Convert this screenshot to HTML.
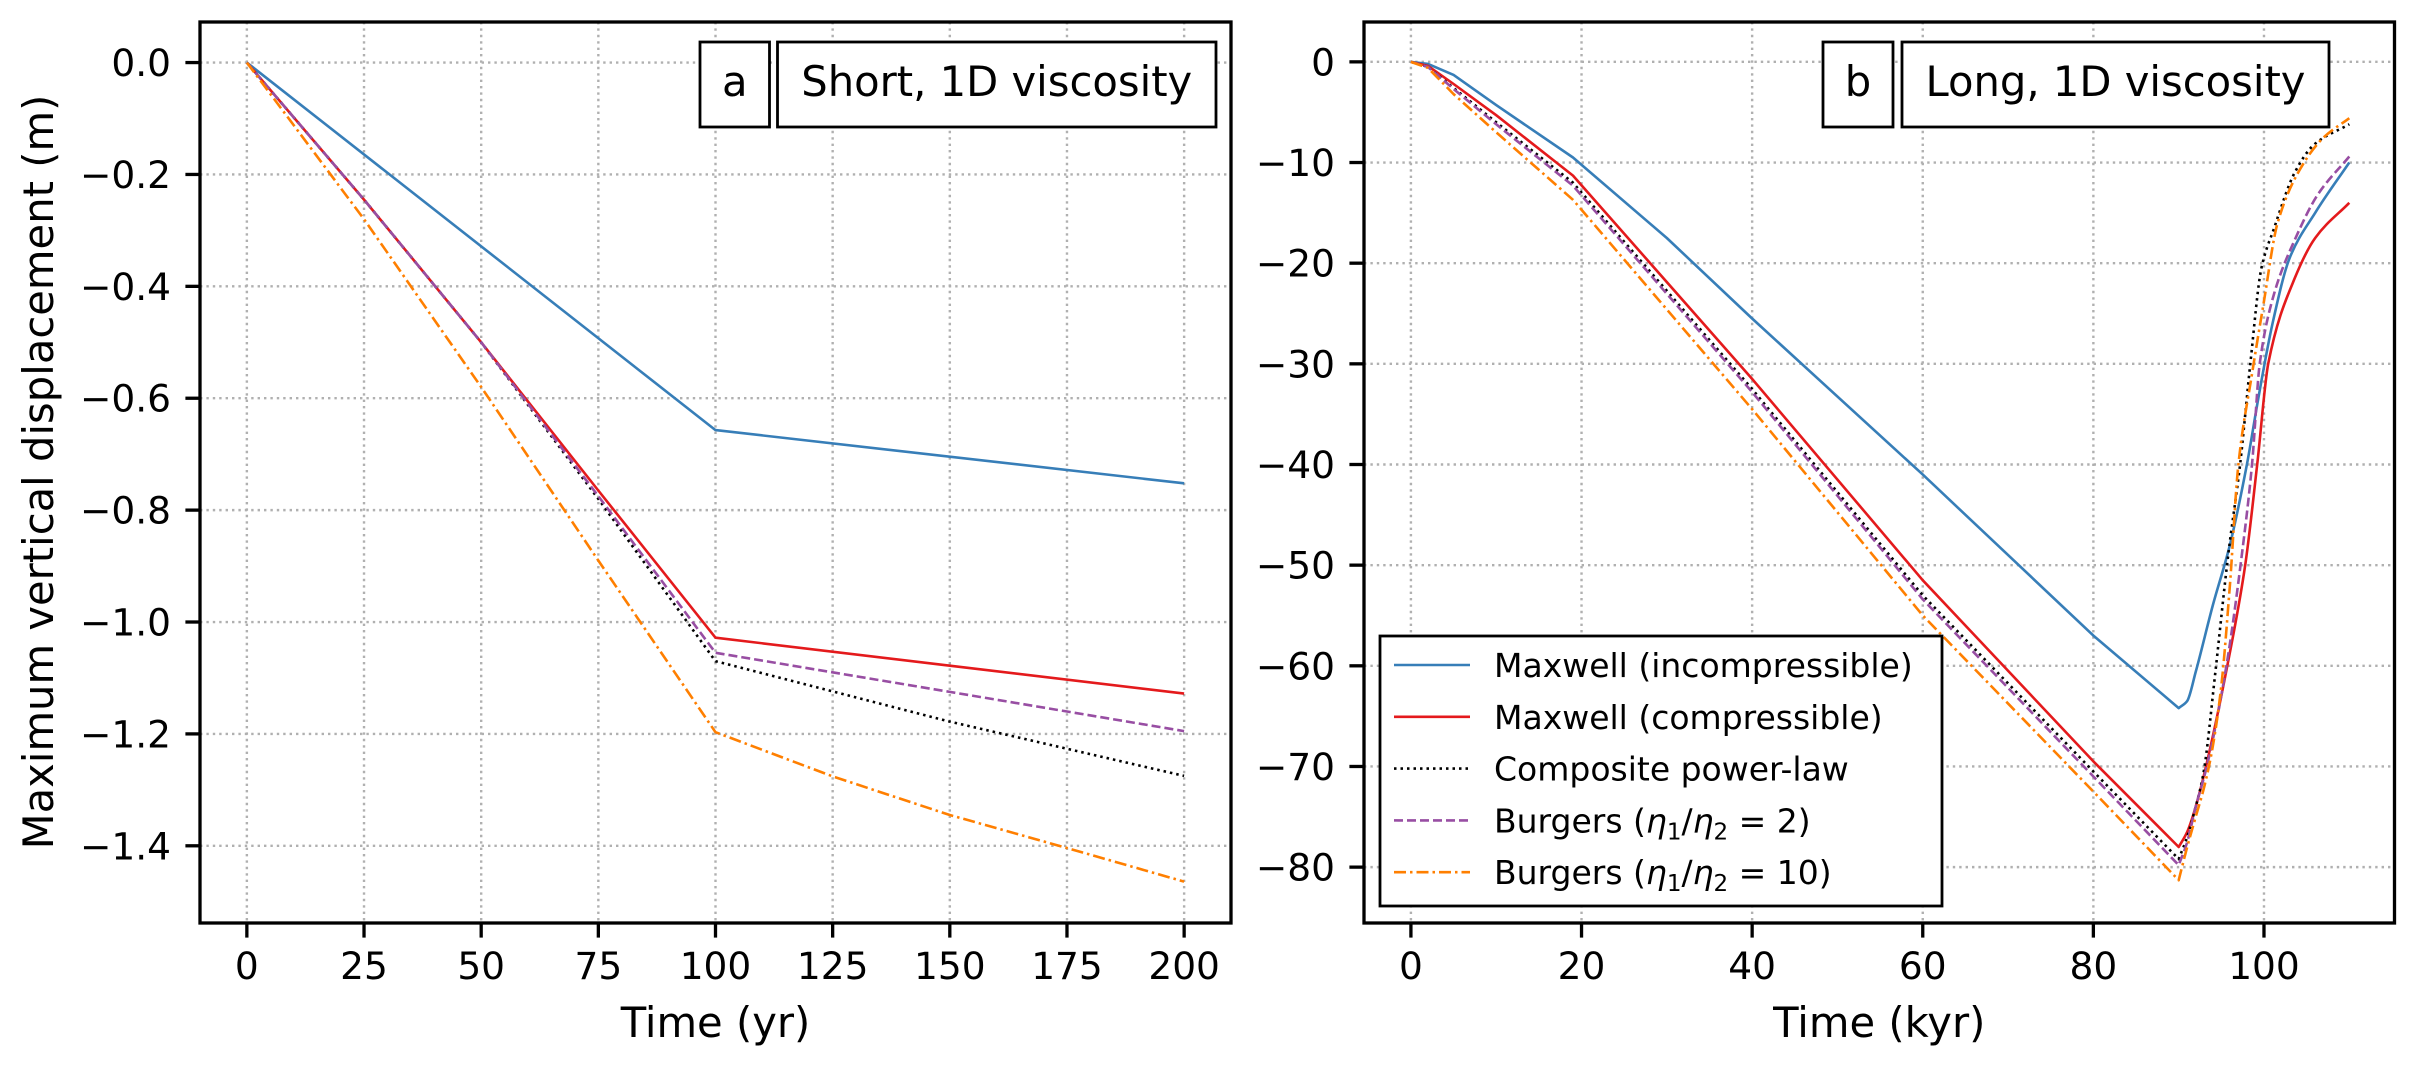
<!DOCTYPE html>
<html><head><meta charset="utf-8"><style>
html,body{margin:0;padding:0;background:#fff;}
svg{display:block;font-family:"DejaVu Sans","Liberation Sans",sans-serif;}
</style></head><body>
<svg id="fig" width="2418" height="1066" viewBox="0 0 2418 1066" xmlns="http://www.w3.org/2000/svg">
<rect width="2418" height="1066" fill="#fff"/>
<g id="root"></g>
</svg>
<script>
// ---- Panel a data (Time yr, displacement m)
const aTicksX = [0,25,50,75,100,125,150,175,200];
const aTicksY = [0,-0.2,-0.4,-0.6,-0.8,-1.0,-1.2,-1.4];
const aTickLabelsY = ["0.0","\u22120.2","\u22120.4","\u22120.6","\u22120.8","\u22121.0","\u22121.2","\u22121.4"];
const aBlueX = [0,100,200];        const aBlueY = [0,-0.657,-0.752];
const aRedX = [0,25,50,75,100,150,200];   const aRedY = [0,-0.245,-0.5,-0.765,-1.028,-1.078,-1.128];
const aBlackX = [0,25,50,75,100,150,200]; const aBlackY = [0,-0.245,-0.5,-0.78,-1.07,-1.178,-1.275];
const aPurpleX = [0,25,50,75,100,150,200];const aPurpleY = [0,-0.245,-0.5,-0.775,-1.055,-1.125,-1.195];
const aOrangeX = [0,25,50,75,100,125,150,175,200]; const aOrangeY = [0,-0.28,-0.58,-0.89,-1.197,-1.276,-1.345,-1.404,-1.464];
// ---- Panel b data (Time kyr, displacement m)
const bTicksX = [0,20,40,60,80,100];
const bTicksY = [0,-10,-20,-30,-40,-50,-60,-70,-80];
const bTickLabelsY = ["0","\u221210","\u221220","\u221230","\u221240","\u221250","\u221260","\u221270","\u221280"];
const bBlueX = [0,2,5,10,19,30,40,60,70,80,90,91,92,94,96,98,99.3,101,103,106,110];
const bBlueY = [0,-0.2,-1.3,-4.3,-9.5,-17.5,-25.5,-41,-49,-57,-64.2,-63.5,-60.6,-54,-48,-40,-33.6,-26,-19.5,-15,-10];
const bRedX = [0,2,5,10,19,40,60,80,90,91,92,93.2,95.7,97.8,99.2,100.5,103.6,106,110];
const bRedY = [0,-0.4,-2.2,-5.3,-11.3,-31.5,-51.5,-69.5,-78,-76.5,-74,-70,-60,-50,-40,-30,-21.5,-17.5,-14];
const bBlackX = [0,2,5,10,19,40,60,80,90,91,92,92.9,94.3,95.8,97.2,98.4,99.7,101.2,103.6,105.9,110];
const bBlackY = [0,-0.5,-2.6,-6,-12,-32.5,-53,-70.5,-79.2,-77,-74,-70.7,-60.6,-49,-40,-30,-20.5,-16.5,-11,-8.2,-6.2];
const bPurpleX = [0,2,5,10,19,40,60,80,90,91,92,93.3,95.6,97.4,98.6,99.5,101.2,103.6,106.3,110];
const bPurpleY = [0,-0.5,-2.7,-6.2,-12.3,-32.8,-53.4,-71,-79.8,-77.5,-74,-70,-60,-49,-40,-30,-23,-17.7,-13.2,-9.4];
const bOrangeX = [0,2,5,10,19,40,60,80,90,91,92,93,94,95,96,97,98.6,99.9,101.6,104.7,107,110];
const bOrangeY = [0,-0.6,-3.2,-7,-13.7,-34.5,-55,-72.5,-81.3,-78,-75,-72,-68,-62,-52,-40,-31,-24.3,-16,-10,-7.5,-5.6];
const legendLabels = ["Maxwell (incompressible)","Maxwell (compressible)","Composite power-law","Burgers","Burgers"];

const NS="http://www.w3.org/2000/svg";
const root=document.getElementById('root');
function mk(tag,attrs,parent){const e=document.createElementNS(NS,tag);for(const k in attrs)e.setAttribute(k,attrs[k]);(parent||root).appendChild(e);return e;}

const TOP=22,BOT=923;
const A={x0:200,x1:1231,xmin:-10,xmax:210,ymin:-1.538,ymax:0.0725};
const B={x0:1364,x1:2394.5,xmin:-5.5,xmax:115.3,ymin:-85.55,ymax:3.96};
function sx(P,v){return P.x0+(v-P.xmin)/(P.xmax-P.xmin)*(P.x1-P.x0);}
function sy(P,v){return BOT-(v-P.ymin)/(P.ymax-P.ymin)*(BOT-TOP);}

const styles={
 blue:{stroke:"#377eb8",dash:""},
 red:{stroke:"#e41a1c",dash:""},
 black:{stroke:"#000",dash:"2.5,4"},
 purple:{stroke:"#984ea3",dash:"9,4"},
 orange:{stroke:"#ff7f00",dash:"12,4,2.5,4"}
};

function axes(P,name,ticksX,ticksY,labelsY,xlabel){
  const g=mk('g',{});
  
  
  ticksX.forEach(t=>{const x=sx(P,t);
    const l=mk('line',{x1:x,x2:x,y1:TOP,y2:BOT,stroke:"#b0b0b0","stroke-width":2.4,"stroke-dasharray":"2.4,4"},g);
    
    mk('line',{x1:x,x2:x,y1:BOT,y2:BOT+14.6,stroke:"#000","stroke-width":3.3},g);
    const tx=mk('text',{x:x,y:BOT+56,"text-anchor":"middle","font-size":37.5,fill:"#000"},g);
    tx.textContent=String(t);
    
  });
  ticksY.forEach((t,i)=>{const y=sy(P,t);
    const l=mk('line',{x1:P.x0,x2:P.x1,y1:y,y2:y,stroke:"#b0b0b0","stroke-width":2.4,"stroke-dasharray":"2.4,4"},g);
    
    mk('line',{x1:P.x0-14.6,x2:P.x0,y1:y,y2:y,stroke:"#000","stroke-width":3.3},g);
    const tx=mk('text',{x:P.x0-29,y:y+13.5,"text-anchor":"end","font-size":37.5,fill:"#000"},g);
    tx.textContent=labelsY[i];
    
  });
  const xl=mk('text',{x:(P.x0+P.x1)/2,y:1037,"text-anchor":"middle","font-size":41.7,fill:"#000"},g);
  xl.textContent=xlabel;
  
  return g;
}
// monotone cubic segment string for points px,py (starting from first point, no M)
function monoPath(px,py){
  const n=px.length;let d="";
  if(n<2)return d;
  const h=[],dl=[];
  for(let i=0;i<n-1;i++){h.push(px[i+1]-px[i]);dl.push((py[i+1]-py[i])/h[i]);}
  const m=new Array(n);
  m[0]=dl[0];m[n-1]=dl[n-2];
  for(let i=1;i<n-1;i++){
    if(dl[i-1]*dl[i]<=0)m[i]=0;
    else{const w1=2*h[i]+h[i-1],w2=h[i]+2*h[i-1];m[i]=(w1+w2)/(w1/dl[i-1]+w2/dl[i]);}
  }
  for(let i=0;i<n-1;i++){
    d+="C"+(px[i]+h[i]/3).toFixed(1)+","+(py[i]+m[i]*h[i]/3).toFixed(1)+" "+(px[i+1]-h[i]/3).toFixed(1)+","+(py[i+1]-m[i+1]*h[i]/3).toFixed(1)+" "+px[i+1].toFixed(1)+","+py[i+1].toFixed(1);
  }
  return d;
}
function series(P,X,Y,key,name,smooth){
  const px=X.map(x=>sx(P,x)), py=Y.map(y=>sy(P,y)), n=px.length;
  let d="M"+px[0].toFixed(1)+","+py[0].toFixed(1);
  if(!smooth){for(let i=1;i<n;i++)d+="L"+px[i].toFixed(1)+","+py[i].toFixed(1);}
  else{
    let k=0;for(let i=1;i<n;i++)if(Y[i]<Y[k])k=i;
    for(let i=1;i<=k;i++)d+="L"+px[i].toFixed(1)+","+py[i].toFixed(1);
    d+=monoPath(px.slice(k),py.slice(k));
  }
  const s=styles[key];
  const p=mk('path',{d:d,fill:"none",stroke:s.stroke,"stroke-width":2.6,"stroke-linejoin":"round"});
  if(s.dash)p.setAttribute('stroke-dasharray',s.dash);
  
  
}
function spines(P,name){
  const r=mk('rect',{x:P.x0,y:TOP,width:P.x1-P.x0,height:BOT-TOP,fill:"none",stroke:"#000","stroke-width":3.3});
  
}
function labelBox(x,w,txt,name){
  const r=mk('rect',{x:x,y:42,width:w,height:85,fill:"#fff",stroke:"#000","stroke-width":2.8});
  
  const t=mk('text',{x:x+w/2,y:96,"text-anchor":"middle","font-size":41.7,fill:"#000"});
  t.textContent=txt;
  
}

// Panel a
axes(A,'panel-a-axes',aTicksX,aTicksY,aTickLabelsY,'Time (yr)');
series(A,aBlueX,aBlueY,'blue','a-maxwell-incompressible',false);
series(A,aRedX,aRedY,'red','a-maxwell-compressible',false);
series(A,aBlackX,aBlackY,'black','a-composite-power-law',false);
series(A,aPurpleX,aPurpleY,'purple','a-burgers-2',false);
series(A,aOrangeX,aOrangeY,'orange','a-burgers-10',false);
spines(A,'panel-a-frame');
labelBox(700,69.5,'a','panel-a-letter');
labelBox(777.5,438.5,'Short, 1D viscosity','panel-a-title');

// Panel b
axes(B,'panel-b-axes',bTicksX,bTicksY,bTickLabelsY,'Time (kyr)');
series(B,bBlueX,bBlueY,'blue','b-maxwell-incompressible',true);
series(B,bRedX,bRedY,'red','b-maxwell-compressible',true);
series(B,bBlackX,bBlackY,'black','b-composite-power-law',true);
series(B,bPurpleX,bPurpleY,'purple','b-burgers-2',true);
series(B,bOrangeX,bOrangeY,'orange','b-burgers-10',true);
spines(B,'panel-b-frame');
labelBox(1823,70,'b','panel-b-letter');
labelBox(1902,427,'Long, 1D viscosity','panel-b-title');

// y-axis title
const yl=mk('text',{x:0,y:0,transform:"translate(53,472) rotate(-90)","text-anchor":"middle","font-size":41.7,fill:"#000"});
yl.textContent="Maximum vertical displacement (m)";



// Legend
const lg=mk('g',{});


mk('rect',{x:1380,y:636,width:562,height:270,fill:"#fff",stroke:"#000","stroke-width":2.8},lg);
const keys=['blue','red','black','purple','orange'];
keys.forEach((k,i)=>{
  const y=665+i*51.8;
  const e=mk('g',{},lg);
  
  
  const l=mk('line',{x1:1394,x2:1470,y1:y,y2:y,stroke:styles[k].stroke,"stroke-width":2.6},e);
  if(styles[k].dash)l.setAttribute('stroke-dasharray',styles[k].dash);
  const t=mk('text',{x:1494,y:y+12,"font-size":33,fill:"#000"},e);
  if(i<3){t.textContent=legendLabels[i];}
  else{
    const n=i===3?'2':'10';
    t.innerHTML=legendLabels[i]+' (<tspan font-style="italic">η</tspan><tspan font-size="23" dy="7">1</tspan><tspan dy="-7">/</tspan><tspan font-style="italic">η</tspan><tspan font-size="23" dy="7">2</tspan><tspan dy="-7"> = '+n+')</tspan>';
  }
});
</script>
</body></html>
